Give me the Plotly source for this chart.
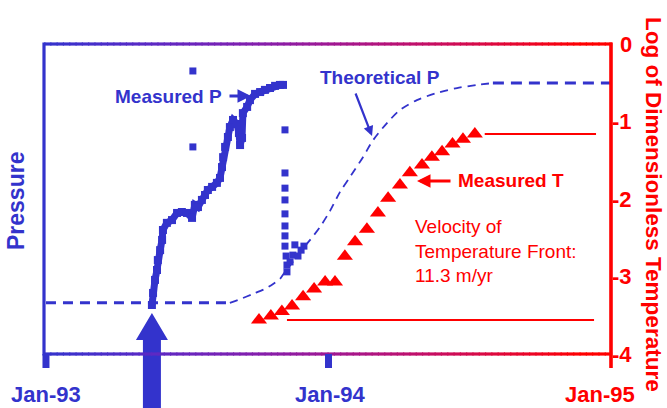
import plotly.graph_objects as go

# ---------------- data ----------------
# Measured pressure (arbitrary units), continuous record
meas_p_year = [1993.375, 1993.379, 1993.386, 1993.393, 1993.396, 1993.404, 1993.411, 1993.414,
               1993.428, 1993.446, 1993.464, 1993.481, 1993.499, 1993.517, 1993.527, 1993.538,
               1993.552, 1993.563, 1993.573, 1993.588, 1993.605, 1993.616, 1993.623, 1993.627,
               1993.634, 1993.644, 1993.651, 1993.662, 1993.676, 1993.683, 1993.687, 1993.694,
               1993.697, 1993.712, 1993.722, 1993.740, 1993.758, 1993.775, 1993.793, 1993.811,
               1993.828, 1993.839]
meas_p_val = [15.8, 19.7, 23.9, 27.1, 30.3, 33.5, 36.8, 40.0,
              42.3, 43.2, 45.5, 45.8, 45.5, 43.9, 48.1, 47.4,
              49.7, 51.3, 52.9, 53.9, 55.2, 56.8, 60.3, 63.5,
              66.8, 70.0, 73.2, 75.5, 74.2, 71.3, 67.4, 69.7,
              77.7, 79.7, 81.9, 83.9, 84.5, 85.2, 85.8, 86.5,
              86.8, 86.8]
# Measured pressure, isolated readings
scat_p_year = [1993.520, 1993.520, 1993.846, 1993.846, 1993.846, 1993.846, 1993.846, 1993.846,
               1993.846, 1993.846, 1993.850, 1993.853, 1993.853, 1993.864, 1993.874, 1993.881,
               1993.892, 1993.903, 1993.913]
scat_p_val = [91.3, 66.8, 72.3, 58.4, 53.5, 49.7, 45.2, 41.3,
              38.1, 34.8, 31.6, 28.7, 26.5, 29.7, 31.9, 35.2,
              31.6, 33.5, 34.8]
# Theoretical pressure
theo_p_year = [1993.000, 1993.651, 1993.687, 1993.733, 1993.775, 1993.804, 1993.828, 1993.846,
               1993.871, 1993.899, 1993.935, 1993.970, 1994.005, 1994.041, 1994.076, 1994.122,
               1994.158, 1994.207, 1994.253, 1994.313, 1994.384, 1994.455, 1994.526, 1994.582,
               1995.000]
theo_p_val = [16.5, 16.5, 17.7, 19.4, 21.0, 22.6, 24.2, 26.5,
              29.4, 32.9, 36.8, 41.0, 46.1, 52.3, 57.1, 63.5,
              69.0, 74.5, 78.7, 81.9, 84.2, 85.8, 86.8, 87.4,
              87.4]
# Measured temperature (log of dimensionless temperature)
meas_t_year = [1993.754, 1993.796, 1993.835, 1993.871, 1993.910, 1993.949, 1993.988, 1994.023,
               1994.058, 1994.094, 1994.136, 1994.175, 1994.211, 1994.253, 1994.288, 1994.331,
               1994.366, 1994.402, 1994.439, 1994.476, 1994.518]
meas_t_log = [-3.56, -3.51, -3.45, -3.38, -3.26, -3.16, -3.07, -3.07,
              -2.74, -2.55, -2.39, -2.18, -1.99, -1.82, -1.66, -1.56,
              -1.46, -1.39, -1.29, -1.23, -1.16]
# Reference levels (red horizontal lines)
ref_line_log = [-3.56, -1.16]
ref_line_start = [1993.853, 1994.553]
ref_line_end = [1994.940, 1994.947]

x_tick_years = [1993, 1994, 1995]
x_tick_labels = ["Jan-93", "Jan-94", "Jan-95"]
y2_tick_vals = [0, -1, -2, -3, -4]
y2_tick_labels = ["0", "-1", "-2", "-3", "-4"]
injection_start = 1993.375

# ---------------- style / layout constants ----------------
BLUE = "#3333CC"
RED = "#FF0000"
FONT = "Arial, 'Liberation Sans', Helvetica, sans-serif"

W, H = 667, 408
ML, MR, MT, MB = 44, 56, 44, 54
PW, PH = W - ML - MR, H - MT - MB
X_LO, X_HI = 1992.993, 1995.0


def px(x):
    return (x - ML) / PW


def py(y):
    return (H - MB - y) / PH


def xdom(yr):
    return (yr - X_LO) / (X_HI - X_LO)


def grad_color(t):
    t = min(max(t / 0.95, 0.0), 1.0)
    r = 51 + 204 * t
    g = 51 * (1 - t)
    b = 204 * (1 - t ** 2)
    return f"rgb({r:.0f},{g:.0f},{b:.0f})"


fig = go.Figure()

# Theoretical P: flat start, curve, flat end
fig.add_trace(go.Scatter(x=theo_p_year[:2], y=theo_p_val[:2], mode="lines",
                         line=dict(color=BLUE, width=3, dash="10px,7px"), hoverinfo="skip"))
fig.add_trace(go.Scatter(x=theo_p_year[1:-1], y=theo_p_val[1:-1], mode="lines",
                         line=dict(color=BLUE, width=1.8, dash="8px,6px", shape="spline", smoothing=0.8),
                         hoverinfo="skip"))
fig.add_trace(go.Scatter(x=theo_p_year[-2:], y=theo_p_val[-2:], mode="lines",
                         line=dict(color=BLUE, width=3, dash="11px,7px"), hoverinfo="skip"))

# Measured P
fig.add_trace(go.Scatter(x=meas_p_year, y=meas_p_val, mode="lines+markers",
                         line=dict(color=BLUE, width=7),
                         marker=dict(symbol="square", size=8, color=BLUE)))
fig.add_trace(go.Scatter(x=scat_p_year, y=scat_p_val, mode="markers",
                         marker=dict(symbol="square", size=7, color=BLUE)))

# Reference lines for temperature
for lvl, x0, x1 in zip(ref_line_log, ref_line_start, ref_line_end):
    fig.add_trace(go.Scatter(x=[x0, x1], y=[lvl, lvl], mode="lines", yaxis="y2",
                             line=dict(color=RED, width=2), hoverinfo="skip"))

# Measured T
fig.add_trace(go.Scatter(x=meas_t_year, y=meas_t_log, mode="markers", yaxis="y2",
                         marker=dict(symbol="triangle-up", size=14, color=RED)))

shapes = []
# Big upward arrow marking injection start
shapes.append(dict(type="path", xref="x domain", yref="y domain",
                   xsizemode="pixel", ysizemode="pixel",
                   xanchor=xdom(injection_start), yanchor=0,
                   path="M -9,-70 L -9,14 L -16,14 L 0,41 L 16,14 L 9,14 L 9,-70 Z",
                   fillcolor=BLUE, line=dict(width=0), layer="above"))

# Gradient top & bottom frame lines
N = 90
for i in range(N):
    for ya in (0, 1):
        shapes.append(dict(type="rect", xref="x domain", yref="y domain",
                           x0=i / N, x1=(i + 1) / N + 0.002,
                           ysizemode="pixel", yanchor=ya, y0=-1.6, y1=1.6,
                           fillcolor=grad_color((i + 0.5) / N), line=dict(width=0), layer="above"))
# Left (blue) and right (red) frame lines
shapes.append(dict(type="rect", xref="x domain", yref="y domain",
                   xsizemode="pixel", xanchor=0, x0=-1.6, x1=1.6,
                   ysizemode="pixel", yanchor=0, y0=-1.6, y1=PH + 1.6,
                   fillcolor=BLUE, line=dict(width=0), layer="above"))
shapes.append(dict(type="rect", xref="x domain", yref="y domain",
                   xsizemode="pixel", xanchor=1, x0=-1.8, x1=1.8,
                   ysizemode="pixel", yanchor=0, y0=-14, y1=PH + 1.6,
                   fillcolor=RED, line=dict(width=0), layer="above"))
# Blue tick marks below the x axis
for yr in x_tick_years[:-1]:
    shapes.append(dict(type="rect", xref="x domain", yref="y domain",
                       xsizemode="pixel", xanchor=xdom(yr), x0=-3.5, x1=3.5,
                       ysizemode="pixel", yanchor=0, y0=-14, y1=0,
                       fillcolor=BLUE, line=dict(width=0), layer="above"))

annotations = []
# x tick labels
for yr, lab, col, xs in zip(x_tick_years, x_tick_labels, [BLUE, BLUE, RED], [0, 1.5, -11]):
    annotations.append(dict(x=yr, xref="x", y=0, yref="paper", yanchor="top", xanchor="center",
                            yshift=-26, xshift=xs, showarrow=False,
                            text=f"<b>{lab}</b>", font=dict(family=FONT, size=22, color=col)))
# right y tick labels
for v, lab in zip(y2_tick_vals, y2_tick_labels):
    annotations.append(dict(x=1, xref="paper", y=v, yref="y2", xanchor="right", yanchor="middle",
                            xshift=23, showarrow=False,
                            text=f"<b>{lab}</b>", font=dict(family=FONT, size=22, color=RED)))
# axis titles
annotations.append(dict(x=px(15.5), y=py(201.5), xref="paper", yref="paper", showarrow=False,
                        xanchor="center", yanchor="middle", textangle=-90,
                        text="<b>Pressure</b>", font=dict(family=FONT, size=23, color=BLUE)))
annotations.append(dict(x=px(653.5), y=py(204.5), xref="paper", yref="paper", showarrow=False,
                        xanchor="center", yanchor="middle", textangle=90,
                        text="<b>Log of Dimensionless Temperature</b>",
                        font=dict(family=FONT, size=22.5, color=RED)))
# series labels
annotations.append(dict(x=px(113), y=py(96), xref="paper", yref="paper", showarrow=False,
                        xanchor="left", yanchor="middle",
                        text="<b>Measured P</b>", font=dict(family=FONT, size=19, color=BLUE)))
annotations.append(dict(x=px(318), y=py(78), xref="paper", yref="paper", showarrow=False,
                        xanchor="left", yanchor="middle",
                        text="<b>Theoretical P</b>", font=dict(family=FONT, size=19, color=BLUE)))
annotations.append(dict(x=px(456), y=py(180), xref="paper", yref="paper", showarrow=False,
                        xanchor="left", yanchor="middle",
                        text="<b>Measured T</b>", font=dict(family=FONT, size=19, color=RED)))
annotations.append(dict(x=px(413), y=py(251), xref="paper", yref="paper", showarrow=False,
                        xanchor="left", yanchor="middle", align="left",
                        text="Velocity of<br>Temperature Front:<br>11.3 m/yr",
                        font=dict(family=FONT, size=19, color=RED)))
# pointer arrows: (tip_x, tip_y, tail_x, tail_y, color, width)
for tx, ty, sx, sy, col, wd in [(251, 96, 228, 96, BLUE, 3),
                                (372, 136, 355, 92, BLUE, 2.2),
                                (417, 181, 452, 181, RED, 3)]:
    annotations.append(dict(x=px(tx), y=py(ty), xref="paper", yref="paper",
                            ax=sx - tx, ay=sy - ty, text="", showarrow=True,
                            arrowhead=2, arrowsize=0.9, arrowwidth=wd, arrowcolor=col, standoff=0))

fig.update_layout(
    width=W, height=H,
    margin=dict(l=ML, r=MR, t=MT, b=MB, pad=0),
    paper_bgcolor="white", plot_bgcolor="white",
    showlegend=False,
    xaxis=dict(range=[X_LO, X_HI], visible=False),
    yaxis=dict(range=[0, 100], visible=False),
    yaxis2=dict(range=[-4, 0], overlaying="y", side="right", visible=False),
    shapes=shapes, annotations=annotations,
)

fig.write_html("out.html")
